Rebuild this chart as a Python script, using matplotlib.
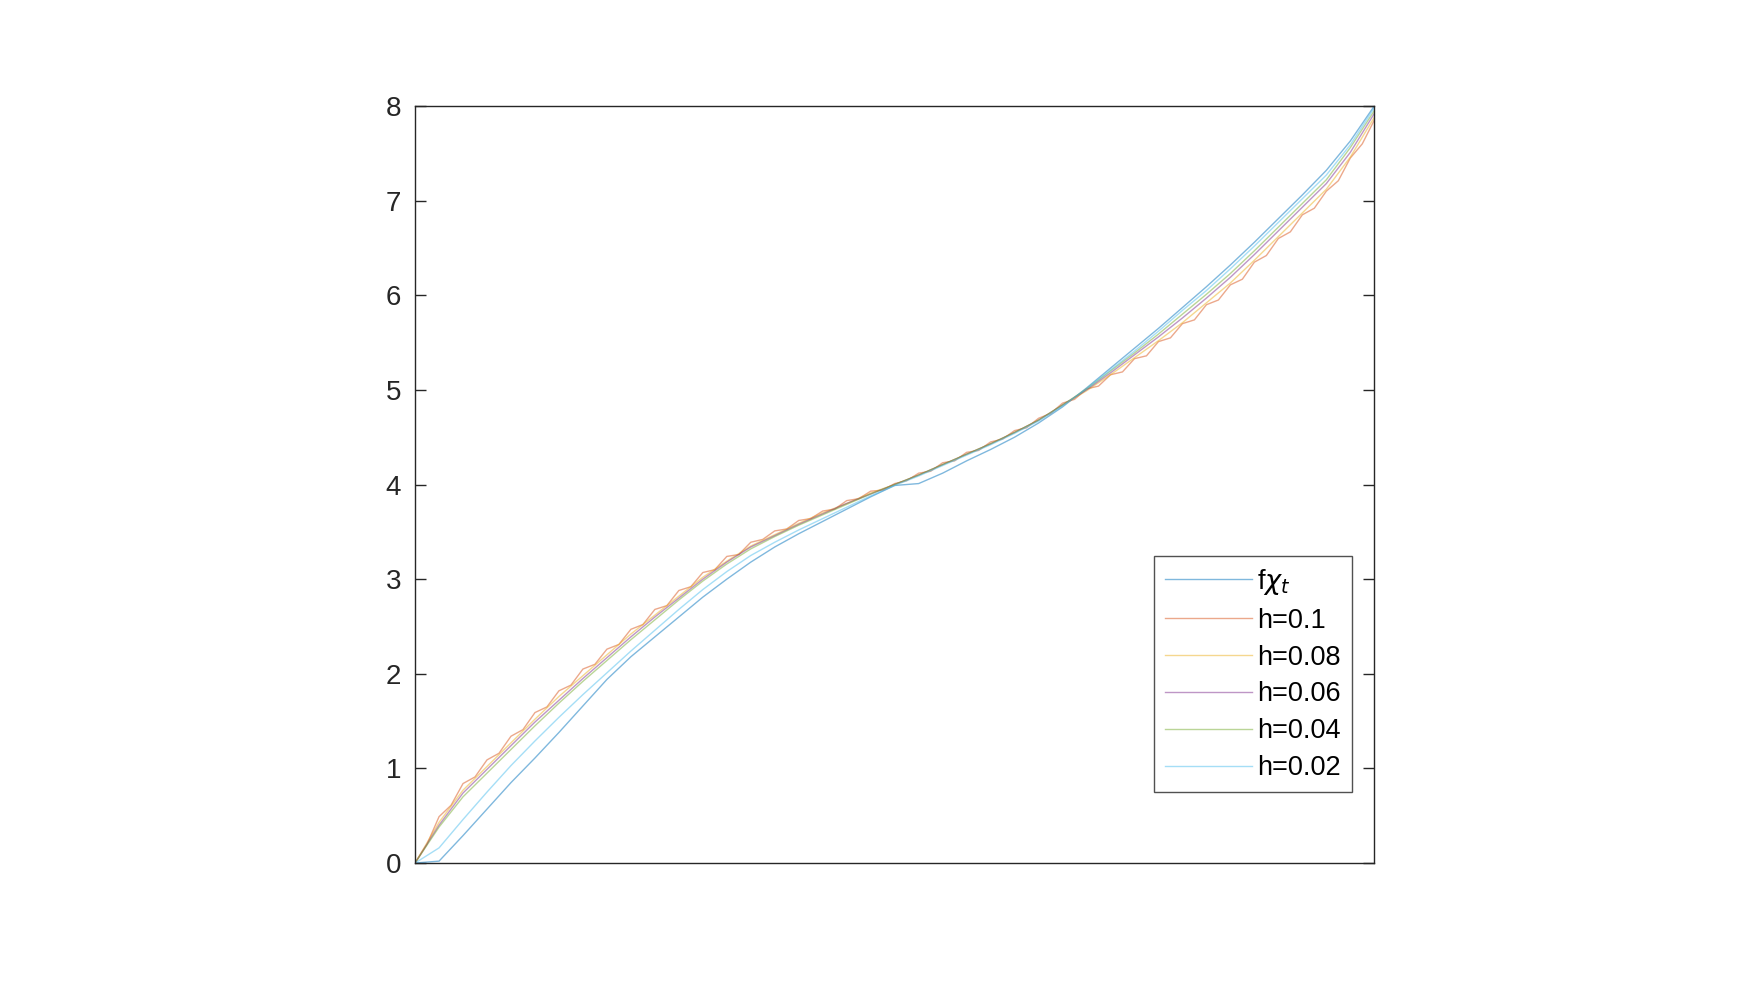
import numpy as np
import matplotlib
matplotlib.use("Agg")
import matplotlib.pyplot as plt

plt.rcParams['font.family'] = ['Liberation Sans', 'DejaVu Sans']
plt.rcParams['mathtext.fontset'] = 'custom'
plt.rcParams['mathtext.rm'] = 'Liberation Sans'
plt.rcParams['mathtext.it'] = 'Liberation Sans'

# x grids (axis has no labels, so use 0..1)
x41 = np.linspace(0, 1, 41)
x81 = np.linspace(0, 1, 81)

f_chi = [0.00, 0.02, 0.29, 0.57, 0.85, 1.11, 1.38, 1.66, 1.94, 2.18, 2.39,
         2.60, 2.81, 3.00, 3.18, 3.34, 3.48, 3.61, 3.74, 3.87, 3.99,
         4.01, 4.12, 4.25, 4.37, 4.50, 4.65, 4.82, 5.02, 5.23, 5.44,
         5.65, 5.87, 6.09, 6.32, 6.56, 6.81, 7.06, 7.32, 7.63, 8.00]

h010 = [0.00, 0.20, 0.49, 0.61, 0.84, 0.91, 1.09, 1.16, 1.34, 1.41, 1.59,
        1.65, 1.82, 1.88, 2.05, 2.10, 2.26, 2.31, 2.47, 2.52, 2.68,
        2.72, 2.88, 2.92, 3.07, 3.10, 3.24, 3.26, 3.39, 3.42, 3.51,
        3.53, 3.62, 3.64, 3.72, 3.74, 3.83, 3.85, 3.93, 3.94, 4.01,
        4.04, 4.12, 4.14, 4.23, 4.25, 4.34, 4.36, 4.45, 4.48, 4.57,
        4.60, 4.70, 4.75, 4.86, 4.90, 5.01, 5.04, 5.16, 5.19, 5.33,
        5.36, 5.51, 5.55, 5.70, 5.74, 5.90, 5.95, 6.11, 6.17, 6.35,
        6.42, 6.60, 6.67, 6.85, 6.92, 7.10, 7.21, 7.45, 7.60, 7.85]

h008 = [0.00, 0.43, 0.77, 1.02, 1.27, 1.52, 1.76, 1.98, 2.20, 2.42, 2.62,
        2.82, 3.02, 3.19, 3.35, 3.47, 3.59, 3.70, 3.80, 3.91, 4.00,
        4.10, 4.21, 4.32, 4.43, 4.55, 4.68, 4.84, 4.99, 5.16, 5.34,
        5.52, 5.71, 5.92, 6.13, 6.37, 6.62, 6.87, 7.12, 7.46, 7.88]

h006 = [0.00, 0.40, 0.74, 0.99, 1.24, 1.49, 1.72, 1.95, 2.17, 2.39, 2.60,
        2.80, 3.00, 3.18, 3.34, 3.46, 3.58, 3.69, 3.80, 3.90, 4.00,
        4.10, 4.21, 4.32, 4.43, 4.55, 4.68, 4.84, 5.00, 5.18, 5.37,
        5.56, 5.76, 5.97, 6.19, 6.43, 6.68, 6.93, 7.18, 7.51, 7.92]

h004 = [0.00, 0.38, 0.70, 0.95, 1.20, 1.45, 1.69, 1.92, 2.14, 2.36, 2.57,
        2.78, 2.98, 3.16, 3.32, 3.45, 3.57, 3.68, 3.79, 3.90, 4.00,
        4.10, 4.21, 4.32, 4.43, 4.55, 4.68, 4.84, 5.01, 5.20, 5.39,
        5.59, 5.80, 6.01, 6.23, 6.47, 6.72, 6.97, 7.22, 7.56, 7.95]

h002 = [0.00, 0.16, 0.46, 0.75, 1.03, 1.29, 1.54, 1.78, 2.01, 2.24, 2.46,
        2.68, 2.89, 3.08, 3.25, 3.39, 3.52, 3.64, 3.76, 3.88, 3.99,
        4.09, 4.20, 4.31, 4.42, 4.54, 4.67, 4.83, 5.01, 5.21, 5.41,
        5.62, 5.84, 6.05, 6.28, 6.52, 6.77, 7.02, 7.27, 7.59, 7.98]

labels = [r'f$\chi_t$', 'h=0.1', 'h=0.08', 'h=0.06', 'h=0.04', 'h=0.02']
colors = ['#0072BD', '#D95319', '#EDB120', '#7E2F8E', '#77AC30', '#4DBEEE']

fig = plt.figure(figsize=(17.44, 10.02), dpi=100)
ax = fig.add_axes([0.238, 0.1387, 0.55, 0.7555])

series = [(x41, f_chi), (x81, h010), (x41, h008), (x41, h006), (x41, h004), (x41, h002)]
for (xs, ys), lab, c in zip(series, labels, colors):
    ax.plot(xs, ys, color=c, alpha=0.5, linewidth=1.0, label=lab)

ax.set_xlim(0, 1)
ax.set_ylim(0, 8)
ax.set_xticks([])
ax.set_yticks(range(0, 9))
ax.tick_params(axis='y', direction='in', length=8, width=1.0, colors='#262626',
               labelsize=20, right=True, pad=10)
for s in ax.spines.values():
    s.set_color('#262626')
    s.set_linewidth(1.0)

leg = ax.legend(loc='lower right', bbox_to_anchor=(0.9765, 0.094), fontsize=19.5,
                frameon=True, fancybox=False, edgecolor='#262626',
                handlelength=3.2, handletextpad=0.2, labelspacing=0.4,
                borderpad=0.4, borderaxespad=0)
leg.get_frame().set_linewidth(1.0)
leg.get_texts()[0].set_math_fontfamily('dejavusans')

fig.savefig('out.png', dpi=100)
